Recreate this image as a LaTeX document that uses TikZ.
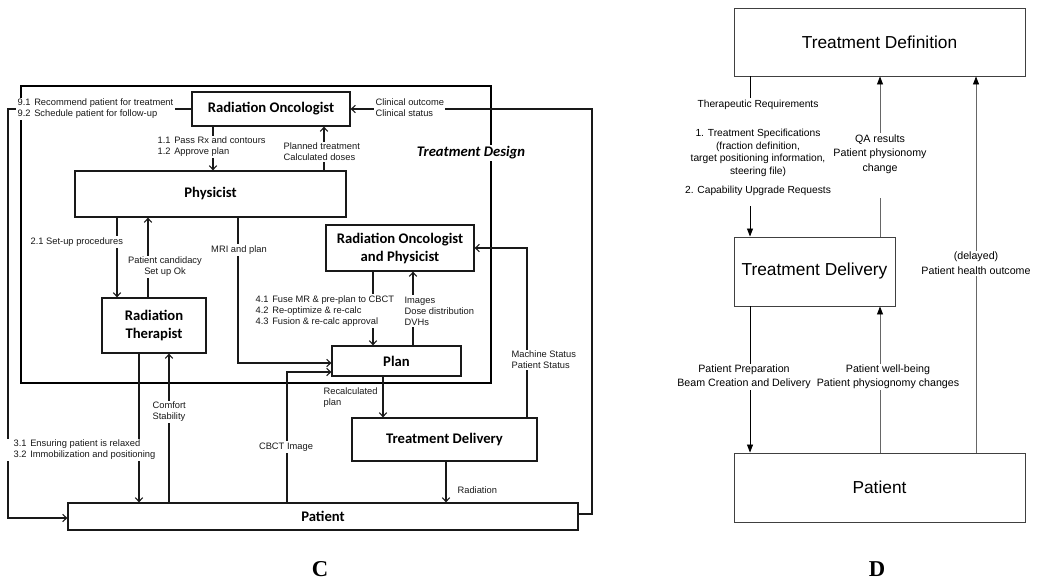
\documentclass[tikz,border=0pt]{standalone}
\usepackage{fontspec}
\setmainfont{Liberation Sans}
\newfontfamily\boxfont{Carlito}
\newfontfamily\capfont{Liberation Serif}
\usetikzlibrary{arrows.meta}
\newcommand{\numtag}[1]{\makebox[12.5pt][l]{#1}}

\begin{document}
\begin{tikzpicture}[x=0.75pt,y=-0.75pt,
  inkC/.style={line width=0.8pt, draw=black!90},
  arrC/.style={inkC, -{Straight Barb[length=3pt,width=5.5pt]}},
  boxC/.style={draw=black!90, line width=0.9pt, inner sep=0pt, align=center,
    font=\boxfont\bfseries\fontsize{11}{13.5}\selectfont},
  noteC/.style={fill=white, inner sep=1pt, align=left, text=black!90,
    font=\fontsize{7}{8.3}\selectfont},
  arrD/.style={line width=0.6pt, draw=black!60,
    -{Triangle[length=6pt,width=4.5pt,color=black]}},
  boxD/.style={draw=black!75, line width=0.7pt, inner sep=0pt,
    font=\fontsize{13}{15}\selectfont},
  noteD/.style={fill=white, inner sep=1pt, align=center,
    font=\fontsize{8}{9.4}\selectfont},
  capfig/.style={font=\capfont\bfseries\fontsize{17}{20}\selectfont}
]
\useasboundingbox (0,0) rectangle (1037,582);

% ---------------- Panel C: clinical workflow ----------------
\node[draw=black, line width=1.6pt, inner sep=0pt,
  minimum width=352.5pt, minimum height=222.75pt] (design) at (256,234.5) {};

\node[boxC, minimum width=118.5pt, minimum height=25.5pt] (ro) at (271,109) {Radiation Oncologist};
\node[boxC, minimum width=203.25pt, minimum height=34.5pt] (phys) at (210.5,194) {Physicist};
\node[boxC, minimum width=78pt, minimum height=41.25pt] (rt) at (154,325.5) {Radiation\\Therapist};
\node[boxC, minimum width=111pt, minimum height=34.5pt] (rop) at (400,248) {Radiation Oncologist\\and Physicist};
\node[boxC, minimum width=96.75pt, minimum height=22.5pt] (plan) at (396.5,361) {Plan};
\node[boxC, minimum width=138.75pt, minimum height=32.25pt] (tdl) at (444.5,439.5) {Treatment Delivery};
\node[boxC, minimum width=382.5pt, minimum height=20.25pt] (pat) at (323,516.5) {Patient};

% connectors
\draw[arrC] (213,0 |- ro.south) -- (213,0 |- phys.north);
\draw[arrC] (324,0 |- phys.north) -- (324,0 |- ro.south);
\draw[arrC] (117,0 |- phys.south) -- (117,0 |- rt.north);
\draw[arrC] (148,0 |- rt.north) -- (148,0 |- phys.south);
\draw[arrC] (238,0 |- phys.south) |- (plan.west |- 0,363);
\draw[arrC] (373,0 |- rop.south) -- (373,0 |- plan.north);
\draw[arrC] (413,0 |- plan.north) -- (413,0 |- rop.south);
\draw[arrC] (527,0 |- tdl.north) |- (rop.east);
\draw[arrC] (383,0 |- plan.south) -- (383,0 |- tdl.north);
\draw[arrC] (446,0 |- tdl.south) -- (446,0 |- pat.north);
\draw[arrC] (287,0 |- pat.north) |- (plan.west |- 0,372);
\draw[arrC] (139,0 |- rt.south) -- (139,0 |- pat.north);
\draw[arrC] (169,0 |- pat.north) -- (169,0 |- rt.south);
\draw[arrC] (pat.east |- 0,514) -| (592,109) -- (ro.east);
\draw[arrC] (ro.west) -| (8,518) -- (pat.west |- 0,518);

% connector labels
\node[noteC, anchor=west] (n91) at (16,109) {\numtag{9.1}Recommend patient for treatment\\\numtag{9.2}Schedule patient for follow-up};
\node[noteC, anchor=west] (n11) at (156,147) {\numtag{1.1}Pass Rx and contours\\\numtag{1.2}Approve plan};
\node[noteC, anchor=west] (nplanned) at (282,152) {Planned treatment\\Calculated doses};
\node[noteC, anchor=west] (nclin) at (374,107.5) {Clinical outcome\\Clinical status};
\node[fill=white, inner sep=1pt, font=\boxfont\bfseries\itshape\fontsize{11}{13}\selectfont] (tdlab) at (471,153) {Treatment Design};
\node[noteC, anchor=west] (n21) at (29,242) {2.1 Set-up procedures};
\node[noteC, align=center] (ncand) at (165,267) {Patient candidacy\\Set up Ok};
\node[noteC] (nmri) at (239,250) {MRI and plan};
\node[noteC, anchor=west] (n41) at (254,311) {\numtag{4.1}Fuse MR \& pre-plan to CBCT\\\numtag{4.2}Re-optimize \& re-calc\\\numtag{4.3}Fusion \& re-calc approval};
\node[noteC, anchor=west] (nimg) at (403,311) {Images\\Dose distribution\\DVHs};
\node[noteC, anchor=west] (nmach) at (510,360) {Machine Status\\Patient Status};
\node[noteC, anchor=west] (nrecalc) at (322,398) {Recalculated\\plan};
\node[noteC, anchor=west] (ncomf) at (151,412) {Comfort\\Stability};
\node[noteC, anchor=west, inner xsep=7pt] (n31) at (4,450) {\numtag{3.1}Ensuring patient is relaxed\\\numtag{3.2}Immobilization and positioning};
\node[noteC] (ncbct) at (286,447) {CBCT Image};
\node[noteC, anchor=west] (nrad) at (456,490) {Radiation};

\node[capfig] (capC) at (320,569) {C};

% ---------------- Panel D: system view ----------------
\node[boxD, minimum width=218.25pt, minimum height=51pt] (tdef) at (879.5,42) {Treatment Definition};
\node[boxD, minimum width=120.75pt, minimum height=51.75pt] (tdel) at (814.5,271.5) {Treatment Delivery};
\node[boxD, minimum width=218.25pt, minimum height=51.75pt] (patD) at (879.5,487.5) {Patient};

\draw[arrD, draw=black] (750,0 |- tdef.south) -- (750,0 |- tdel.north);
\draw[arrD] (880,0 |- tdel.north) -- (880,0 |- tdef.south);
\draw[arrD] (976,0 |- patD.north) -- (976,0 |- tdef.south);
\draw[arrD, draw=black] (750,0 |- tdel.south) -- (750,0 |- patD.north);
\draw[arrD] (880,0 |- patD.north) -- (880,0 |- tdel.south);

\node[noteD, anchor=north, font=\fontsize{8}{10.9}\selectfont] (nqa) at (880,133) {QA results\\Patient physionomy\\change\rule[-19pt]{0pt}{0pt}};
\node[noteD, anchor=north, font=\fontsize{7.7}{9.4}\selectfont] (nreq) at (758,98) {Therapeutic Requirements\\[13pt]1. Treatment Specifications\\(fraction definition,\\target positioning information,\\steering file)\\[5pt]2. Capability Upgrade Requests\rule[-8pt]{0pt}{0pt}};
\node[noteD, font=\fontsize{8}{11}\selectfont] (ndelay) at (976,263.5) {(delayed)\\Patient health outcome};
\node[noteD, font=\fontsize{8}{10.5}\selectfont] (nwell) at (888,377) {Patient well-being\\Patient physiognomy changes};
\node[noteD, font=\fontsize{8}{10.5}\selectfont] (nprep) at (744,377) {Patient Preparation\\Beam Creation and Delivery};

\node[capfig] (capD) at (877,569) {D};
\end{tikzpicture}
\end{document}
